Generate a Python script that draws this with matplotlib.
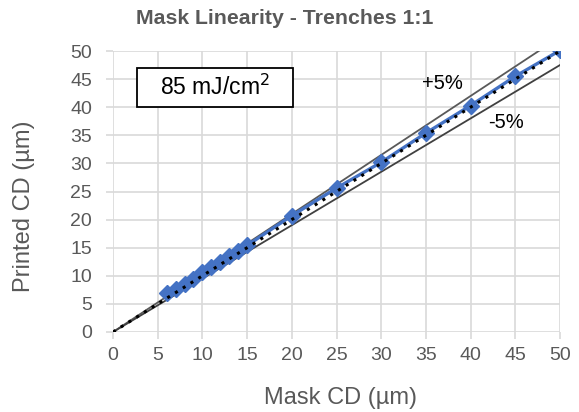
import matplotlib
matplotlib.use("Agg")
import matplotlib.pyplot as plt
from matplotlib.patches import Rectangle

mask_cd = [6, 7, 8, 9, 10, 11, 12, 13, 14, 15, 20, 25, 30, 35, 40, 45, 50]
printed_cd = [7.0, 7.6, 8.5, 9.5, 10.6, 11.5, 12.5, 13.5, 14.5, 15.4, 20.7, 25.6, 30.2, 35.4, 40.3, 45.5, 50.1]
ref_x = [0, 50]
ref_y = [0, 50]
tol_plus = 1.05
tol_minus = 0.95
xticks = list(range(0, 55, 5))
yticks = list(range(0, 55, 5))

plt.rcParams['font.family'] = ['Liberation Sans', 'DejaVu Sans']
W, H = 579, 412
fig = plt.figure(figsize=(W / 100, H / 100), dpi=100)
ax = fig.add_axes([113 / W, 1 - 332 / H, 447 / W, 281 / H])

grid_c = '#d9d9d9'
txt_c = '#595959'

ax.plot(ref_x, [v * tol_plus for v in ref_y], color='#595959', lw=1.3, zorder=2)
ax.plot(ref_x, [v * tol_minus for v in ref_y], color='#404040', lw=1.3, zorder=2)
ax.plot(mask_cd, printed_cd, color='#4472C4', lw=2.4, marker='D', ms=8, zorder=3)
ax.plot(ref_x, ref_y, color='black', lw=2.2, ls=(0, (1, 2)), zorder=4)

ax.set_xlim(0, 50)
ax.set_ylim(0, 50)
ax.set_xticks(xticks)
ax.set_yticks(yticks)
ax.grid(True, color=grid_c, lw=1.2)
ax.set_axisbelow(True)
for s in ax.spines.values():
    s.set_visible(False)
ax.tick_params(axis='both', colors=grid_c, labelcolor=txt_c, labelsize=14, length=5, width=1.2)
ax.tick_params(axis='x', pad=6)
ax.tick_params(axis='y', pad=10)

fig.text(285 / W, 1 - 19 / H, 'Mask Linearity - Trenches 1:1', fontsize=15.3, fontweight='bold',
         color=txt_c, ha='center', va='center')
fig.text(341 / W, 1 - 398 / H, 'Mask CD (µm)', fontsize=17, color=txt_c, ha='center', va='center')
fig.text(24 / W, 1 - 206 / H, 'Printed CD (µm)', fontsize=17, color=txt_c, ha='center', va='center',
         rotation=90)

ax.add_patch(Rectangle((2.7, 40.0), 17.4, 7.0, fc='white', ec='black', lw=1.3, zorder=5))
ax.text(11.4, 43.5, '85 mJ/cm$^{2}$', fontsize=16.5, ha='center', va='center', color='black', zorder=6)
ax.text(36.9, 44.3, '+5%', fontsize=14.5, ha='center', va='center', color='black')
ax.text(44.0, 37.3, '-5%', fontsize=14.5, ha='center', va='center', color='black')

fig.savefig('out.png', dpi=100, facecolor='white')
